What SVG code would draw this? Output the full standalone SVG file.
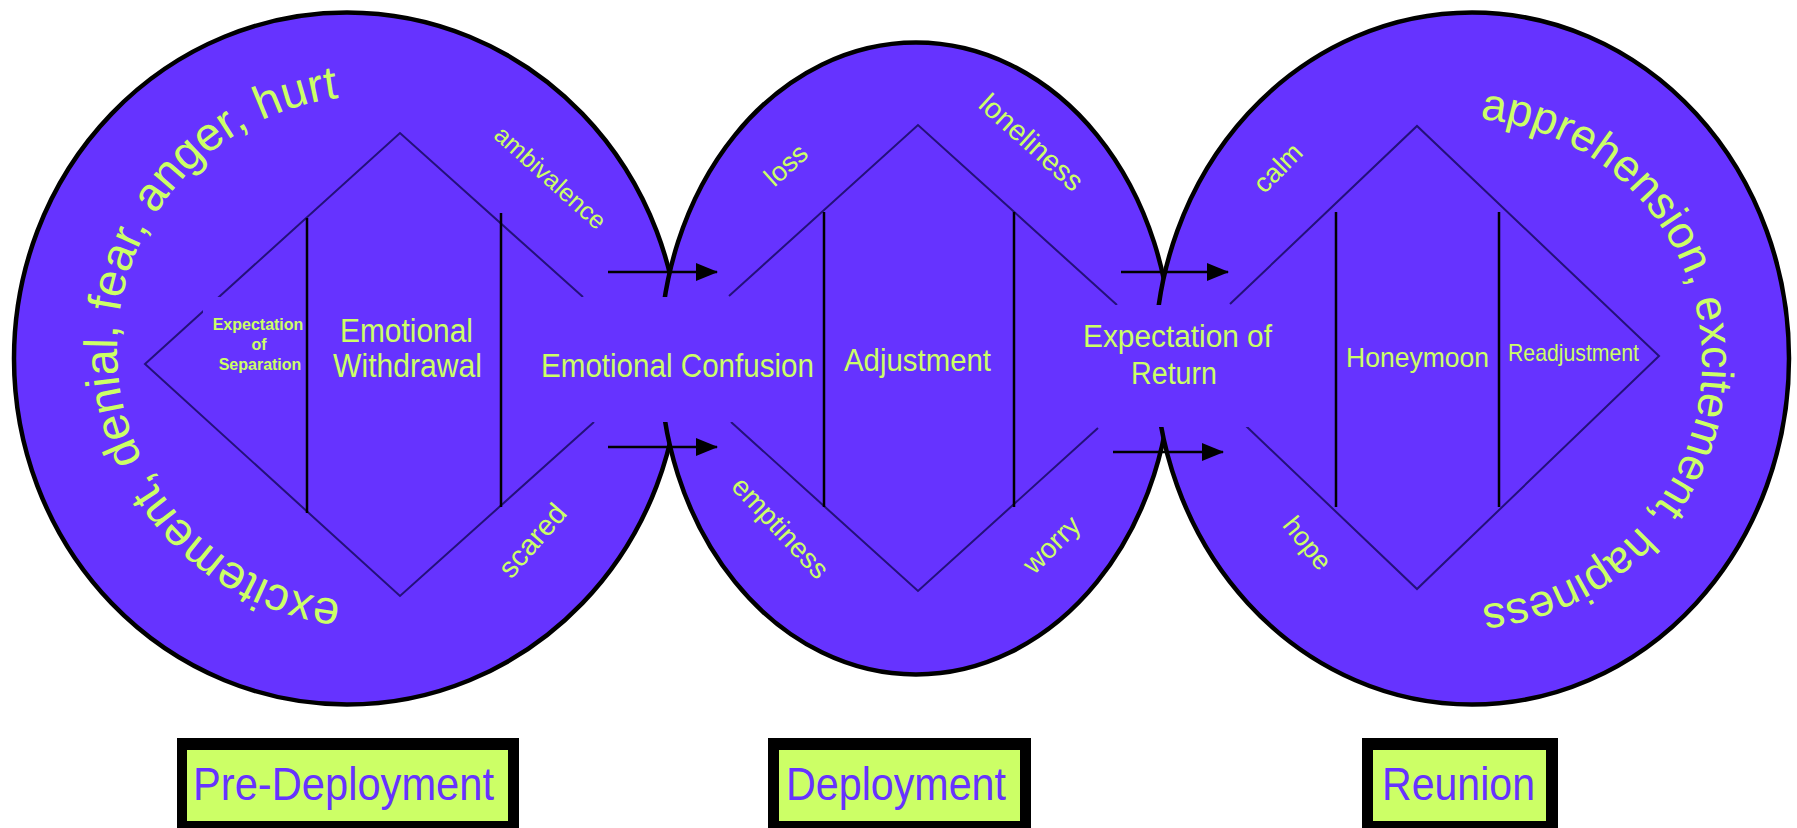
<svg xmlns="http://www.w3.org/2000/svg" width="1797" height="828" viewBox="0 0 1797 828">
<style>
.circ{fill:#6633FF;stroke:#000;stroke-width:4.5}
.dia{fill:none;stroke:#24117a;stroke-width:2}
.vl{stroke:#000;stroke-width:2.5}
.band{fill:#6633FF}
.lbl{font-family:"Liberation Sans",Arial,sans-serif;fill:#CCFF66}
.arc{font-family:"Liberation Sans",Arial,sans-serif;fill:#CCFF66}
.stage{font-family:"Liberation Sans",Arial,sans-serif;fill:#6633FF;font-size:46px}
.frame{fill:#000}
.pad{fill:#CCFF66}
.conn{stroke:#000;stroke-width:2.5;fill:none}
</style>
<defs>
<marker id="ah" markerWidth="22" markerHeight="18" refX="21" refY="9" orient="auto" markerUnits="userSpaceOnUse"><path d="M0,0 L22,9 L0,18 Z" fill="#000"/></marker>
<path id="arc1" d="M 370,602 A 253 253 0 0 1 117,349 A 253 253 0 0 1 370,96 A 253 253 0 0 1 623,349"/>
<path id="arc3" d="M 1458,118 A 244 244 0 0 1 1702,362 A 244 244 0 0 1 1458,606 A 244 244 0 0 1 1214,362"/>
</defs>

<g id="circle-pre-deployment"><ellipse class="circ" cx="347" cy="358.5" rx="333" ry="346"/></g>
<g id="circle-deployment"><ellipse class="circ" cx="916" cy="358.5" rx="256" ry="316"/></g>
<g id="circle-reunion"><ellipse class="circ" cx="1472" cy="358.5" rx="317" ry="346"/></g>

<g id="diamond-1">
<path class="dia" d="M 583,297 L 400,133 L 145,364 L 400,596 L 594,422"/>
</g>
<g id="diamond-2">
<path class="dia" d="M 729,296 L 918,125 L 1117,305 M 731,422 L 918,591 L 1098,428"/>
</g>
<g id="diamond-3">
<path class="dia" d="M 1230,304 L 1417,126 L 1659,356 L 1417,589 L 1246,426"/>
</g>

<g id="emotional-confusion">
<rect class="band" x="540" y="297" width="276" height="125"/>
<text class="lbl" x="541" y="377" font-size="33" textLength="273" lengthAdjust="spacingAndGlyphs">Emotional Confusion</text>
</g>
<g id="expectation-of-return">
<rect class="band" x="1076" y="305" width="212" height="122"/>
<text class="lbl" x="1083" y="347" font-size="31" textLength="189" lengthAdjust="spacingAndGlyphs">Expectation of</text>
<text class="lbl" x="1131" y="384" font-size="31" textLength="86" lengthAdjust="spacingAndGlyphs">Return</text>
</g>
<g id="expectation-of-separation">
<rect class="band" x="203" y="297" width="102" height="88"/>
<text class="lbl" font-size="16" font-weight="bold" text-anchor="middle"><tspan x="258" y="330">Expectation</tspan><tspan x="259" y="350">of</tspan><tspan x="260" y="370">Separation</tspan></text>
</g>

<g id="dividers">
<line class="vl" x1="307" y1="218" x2="307" y2="513"/>
<line class="vl" x1="501" y1="213" x2="501" y2="507"/>
<line class="vl" x1="824" y1="212" x2="824" y2="507"/>
<line class="vl" x1="1014" y1="212" x2="1014" y2="507"/>
<line class="vl" x1="1336" y1="212" x2="1336" y2="507"/>
<line class="vl" x1="1499" y1="212" x2="1499" y2="507"/>
</g>

<g id="emotional-withdrawal">
<text class="lbl" x="340" y="342" font-size="33" textLength="133" lengthAdjust="spacingAndGlyphs">Emotional</text>
<text class="lbl" x="333" y="377" font-size="33" textLength="149" lengthAdjust="spacingAndGlyphs">Withdrawal</text>
</g>
<g id="adjustment">
<text class="lbl" x="844" y="371" font-size="32" textLength="147" lengthAdjust="spacingAndGlyphs">Adjustment</text>
</g>
<g id="honeymoon">
<text class="lbl" x="1346" y="367" font-size="27" textLength="143" lengthAdjust="spacingAndGlyphs">Honeymoon</text>
</g>
<g id="readjustment">
<text class="lbl" x="1508" y="361" font-size="24" textLength="131" lengthAdjust="spacingAndGlyphs">Readjustment</text>
</g>

<g id="feelings-pre">
<text class="arc" font-size="47"><textPath href="#arc1" startOffset="29">excitement, denial, fear, anger, hurt</textPath></text>
<text class="lbl" font-size="25" text-anchor="middle" transform="translate(550,178) rotate(42)" y="8">ambivalence</text>
<text class="lbl" font-size="29" text-anchor="middle" transform="translate(533,541) rotate(-49)" y="9">scared</text>
</g>
<g id="feelings-deployment">
<text class="lbl" font-size="27" text-anchor="middle" transform="translate(786,165) rotate(-42)" y="9">loss</text>
<text class="lbl" font-size="29" text-anchor="middle" transform="translate(1031,143) rotate(42)" y="9">loneliness</text>
<text class="lbl" font-size="28" text-anchor="middle" transform="translate(778,530) rotate(47)" y="6">emptiness</text>
<text class="lbl" font-size="28" text-anchor="middle" transform="translate(1054,547) rotate(-45)" y="6">worry</text>
</g>
<g id="feelings-reunion">
<text class="arc" font-size="45"><textPath href="#arc3" startOffset="22">apprehension, excitement, hapiness</textPath></text>
<text class="lbl" font-size="27" text-anchor="middle" transform="translate(1278,168) rotate(-45)" y="9">calm</text>
<text class="lbl" font-size="27" text-anchor="middle" transform="translate(1305,545) rotate(51)" y="6">hope</text>
</g>

<g id="connectors">
<path class="conn" marker-end="url(#ah)" d="M 608,272 H 717"/>
<path class="conn" marker-end="url(#ah)" d="M 608,447 H 717"/>
<path class="conn" marker-end="url(#ah)" d="M 1121,272 H 1228"/>
<path class="conn" marker-end="url(#ah)" d="M 1113,452 H 1223"/>
</g>

<g id="stage-pre-deployment">
<rect class="frame" x="177" y="738" width="342" height="90"/>
<rect class="pad" x="187" y="750" width="321" height="71"/>
<text class="stage" x="193" y="800" textLength="301" lengthAdjust="spacingAndGlyphs">Pre-Deployment</text>
</g>
<g id="stage-deployment">
<rect class="frame" x="768" y="738" width="263" height="90"/>
<rect class="pad" x="779" y="750" width="241" height="71"/>
<text class="stage" x="786" y="800" textLength="220" lengthAdjust="spacingAndGlyphs">Deployment</text>
</g>
<g id="stage-reunion">
<rect class="frame" x="1362" y="738" width="196" height="90"/>
<rect class="pad" x="1373" y="750" width="173" height="71"/>
<text class="stage" x="1382" y="800" textLength="153" lengthAdjust="spacingAndGlyphs">Reunion</text>
</g>
</svg>
